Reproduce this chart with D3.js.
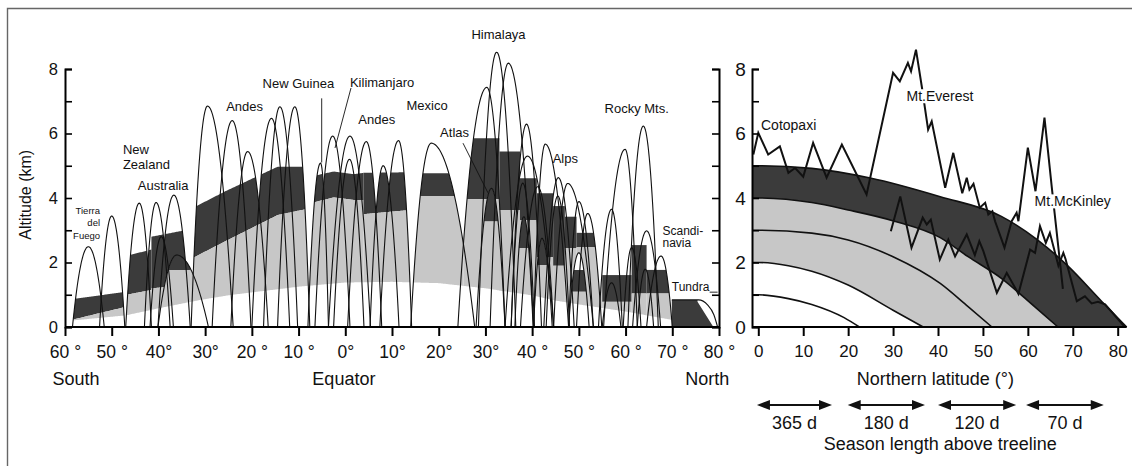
<!DOCTYPE html>
<html>
<head>
<meta charset="utf-8">
<script src="https://cdn.jsdelivr.net/npm/d3@7"></script>
<style>
  body { margin: 0; background: #fff; }
  text { font-family: "Liberation Sans", Arial, Helvetica, sans-serif; fill: #111; }
</style>
</head>
<body>
<svg id="chart" width="1132" height="466"></svg>
<script>
// ---------- Left panel: mountain profiles along a south-north transect ----------
// Each peak: [latitude of summit (° N, negative = south), summit altitude (km), left foot latitude, right foot latitude]
const peaks = [
  [-55.0, 2.49, -58.4, -51.6], [-50.0, 3.44, -52.6, -47.2], [-44.1, 3.84, -47.0, -41.5],
  [-40.5, 3.86, -43.0, -37.5], [-39.4, 2.80, -41.8, -36.8], [-36.7, 4.09, -40.1, -33.2],
  [-36.1, 2.23, -40.1, -29.3],
  [-29.5, 6.85, -33.0, -24.0], [-24.2, 6.40, -28.5, -20.2], [-20.9, 5.44, -24.5, -16.5],
  [-15.8, 6.47, -20.0, -11.9], [-14.0, 6.83, -17.5, -10.2], [-10.8, 6.83, -14.5, -7.6],
  [-5.3, 5.08, -8.0, -3.6], [-2.7, 5.92, -6.5, 1.0], [0.9, 5.20, -2.5, 4.0],
  [1.0, 5.92, -3.6, 5.4], [4.5, 5.75, 0.5, 7.8], [8.1, 5.00, 5.3, 11.5],
  [11.4, 5.78, 7.4, 14.2], [18.4, 5.70, 14.0, 27.7],
  [30.3, 7.43, 24.1, 34.2], [32.4, 8.52, 28.5, 36.5], [34.9, 8.18, 31.0, 40.3],
  [31.3, 4.30, 28.0, 34.2],
  [38.8, 6.29, 35.5, 42.0], [39.0, 5.30, 34.2, 44.6], [38.0, 4.46, 35.5, 40.5],
  [41.2, 4.35, 37.5, 44.6], [42.8, 5.67, 40.3, 47.8], [42.1, 2.75, 40.3, 44.3],
  [45.6, 4.63, 42.5, 49.0], [45.5, 4.06, 43.0, 48.0], [47.6, 4.45, 44.6, 53.1],
  [50.0, 3.89, 47.8, 53.1], [51.9, 3.52, 49.5, 54.9], [50.0, 2.30, 47.8, 52.2],
  [57.0, 3.65, 54.2, 59.3], [57.0, 1.37, 55.0, 59.0], [59.9, 5.51, 55.3, 62.5],
  [63.8, 6.23, 60.5, 67.0], [64.5, 2.98, 61.5, 67.5], [61.3, 2.46, 59.5, 63.3],
  [64.2, 1.79, 62.5, 66.0], [67.6, 2.20, 64.5, 70.0], [38.2, 3.42, 36.3, 40.2]
];

// Lower limit of the montane (light grey) belt: [latitude, altitude km]
const montaneBase = [
  [-58.6, 0.20], [-47, 0.36], [-40, 0.58], [-31, 0.84], [-24.7, 0.99], [-10, 1.25],
  [0, 1.38], [10, 1.40], [20, 1.36], [30, 1.20], [40, 0.98], [45, 0.82], [50, 0.70],
  [60, 0.48], [70, 0.22]
];

// Vegetation belts per mountain range: rows of [latitude, upper limit of alpine belt, treeline]
// "on" lists the peaks (by index) that a belt is restricted to; null = all peaks.
const belts = [
  { on: null, rows: [[-58.6, 0.86, 0.22], [-47.1, 1.09, 0.62]] },
  { on: null, rows: [[-47.1, 2.20, 0.99], [-41.5, 2.40, 1.15]] },
  { on: null, rows: [[-41.5, 2.80, 1.20], [-33.2, 3.03, 1.30]] },
  { on: [6],  rows: [[-40.1, 3.03, 1.77], [-33.2, 3.03, 1.77]] },
  { on: null, rows: [[-33.2, 3.65, 2.10], [-25.8, 4.20, 2.65], [-14.5, 4.97, 3.47], [-7.6, 4.97, 3.68]] },
  { on: null, rows: [[-7.6, 4.66, 3.83], [-2.5, 4.82, 4.02], [1.8, 4.74, 3.94], [3.9, 4.78, 3.94]] },
  { on: null, rows: [[3.9, 4.78, 3.50], [14.2, 4.80, 3.63]] },
  { on: null, rows: [[14.2, 4.77, 4.06], [25.3, 4.77, 4.06]] },
  { on: null, rows: [[25.3, 5.85, 3.96], [33.0, 5.85, 3.96]] },
  { on: [24], rows: [[28.0, 5.85, 3.27], [34.2, 5.85, 3.27]] },
  { on: null, rows: [[33.0, 5.44, 3.63], [37.4, 5.44, 3.63]] },
  { on: null, rows: [[37.4, 4.61, 3.32], [41.0, 4.61, 3.32]] },
  { on: [45], rows: [[36.3, 9.00, 2.45], [40.2, 9.00, 2.45]] },
  { on: null, rows: [[41.0, 4.15, 2.16], [44.5, 4.15, 2.16]] },
  { on: [30], rows: [[40.3, 9.00, 1.92], [44.3, 9.00, 1.92]] },
  { on: null, rows: [[44.5, 3.75, 1.90], [47.0, 3.75, 1.90]] },
  { on: null, rows: [[47.0, 3.42, 2.45], [49.5, 3.42, 2.45]] },
  { on: null, rows: [[49.5, 2.92, 2.48], [55.0, 2.92, 2.48]] },
  { on: [36], rows: [[47.8, 1.77, 1.09], [52.2, 1.77, 1.09]] },
  { on: null, rows: [[55.0, 1.61, 0.78], [61.3, 1.61, 0.78]] },
  { on: null, rows: [[61.3, 2.54, 1.04], [64.5, 2.54, 1.04]] },
  { on: null, rows: [[64.5, 1.77, 1.04], [70.0, 1.77, 1.04]] }
];

// Arctic tundra block and its outline
const tundraFill = [[69.9, 0], [69.9, 0.84], [75.4, 0.84], [75.4, 0.78], [78.8, 0]];
const tundraOutline = [[69.9, 0.84], [75.6, 0.84], [77.6, 0.68], [78.9, 0.38], [79.7, 0]];

const leftTicks = [-60, -50, -40, -30, -20, -10, 0, 10, 20, 30, 40, 50, 60, 70, 80];
const leftTickLabels = ["60 °", "50 °", "40°", "30°", "20 °", "10 °", "0°", "10°", "20°", "30°", "40 °", "50 °", "60 °", "70 °", "80 °"];
const altTicks = [0, 1, 2, 3, 4, 5, 6, 7, 8];
const altLabels = [0, 2, 4, 6, 8];

// ---------- Right panel: northern hemisphere summary ----------
// Isolines of altitude vs latitude: [latitude, altitude km]
const iso5 = [[-1.4, 5], [0, 5], [11.9, 4.92], [24.9, 4.62], [40.5, 4.04], [54.1, 3.43], [62, 2.72], [69, 1.88], [76.4, 0.8], [82, 0]];
const iso4 = [[-1.4, 4], [0, 4], [11.9, 3.86], [20, 3.63], [30.1, 3.29], [40.5, 2.77], [46.7, 2.18], [54.1, 1.51], [61.5, 0.63], [66.7, 0]];
const iso3 = [[-1.4, 3], [0, 3], [11.9, 2.91], [20, 2.7], [30, 2.18], [40.5, 1.35], [46.7, 0.63], [52, 0]];
const iso2 = [[-1.4, 2], [0, 2], [6.7, 1.9], [11.9, 1.73], [20, 1.3], [30, 0.52], [36.7, 0]];
const iso1 = [[-1.4, 1], [0, 1], [6.7, 0.88], [11.9, 0.7], [19.1, 0.29], [22.5, 0]];

// Highest summits along the northern latitudes
const summitLine = [
  [-1.1, 5.35], [0, 6.02], [2.2, 5.35], [4.8, 5.6], [6.7, 4.78], [8.2, 4.93], [10, 4.66],
  [12.2, 5.71], [15.2, 4.63], [18.6, 5.66], [24.1, 4.11], [30, 7.88], [31.5, 7.62],
  [33.3, 8.19], [34, 7.93], [35.1, 8.6], [36.4, 7.45], [37.8, 6.12], [38.6, 6.38],
  [41.6, 4.32], [43.4, 5.4], [45.4, 4.15], [46.4, 4.63], [47, 4.26], [47.9, 4.44],
  [49.3, 3.7], [50.5, 3.85], [51.2, 3.49], [52.1, 3.59], [52.7, 3.28], [54.8, 2.46],
  [56.4, 3.28], [57.5, 3.54], [57.9, 3.28], [60, 5.56], [61.7, 4.21], [63.7, 6.49],
  [65.3, 4.37], [67.8, 1.18]
];
// Local treeline elevations
const treeLine = [
  [29.5, 2.97], [31.6, 4.05], [34.1, 2.46], [36.6, 3.39], [37.5, 3.18], [38.4, 3.33],
  [40.4, 2.09], [42.3, 2.71], [43.8, 2.19], [46.4, 2.87], [48.2, 2.23], [49.2, 2.66],
  [50.1, 2.35], [53.1, 1.06], [55.3, 1.68], [57.9, 1.03], [60.5, 2.4], [61.6, 2.3],
  [62.7, 3.13], [64.0, 2.61], [64.9, 2.92], [66.8, 1.9], [67.9, 2.3], [68.4, 2.1],
  [70.9, 0.8], [72.7, 0.95], [74.2, 0.73], [75.6, 0.78], [77.2, 0.7], [81.6, 0]
];
const rightTicks = [0, 10, 20, 30, 40, 50, 60, 70, 80];
const seasonLabels = ["365 d", "180 d", "120 d", "70 d"];
const seasonSpans = [[-0.3, 16.4], [19.9, 37.1], [40.0, 57.4], [59.6, 76.9]];

// ---------- Drawing ----------
const svg = d3.select("#chart");
const DARK = "#3b3b3b", LIGHT = "#c7c7c7", INK = "#111";

const xL = d3.scaleLinear([-60, 80], [65, 719]);
const y = d3.scaleLinear([0, 8], [327, 69]);
const xR = d3.scaleLinear([0, 80], [758.3, 1117.7]);

// frame
svg.append("path").attr("d", "M7.5,466V8.5H1132").attr("fill", "none")
  .attr("stroke", "#666").attr("stroke-width", 1.4);

const defs = svg.append("defs");

function archPoints(p) {
  const [c, h, l, r] = p, n = 40, pts = [];
  for (let i = 0; i <= n; i++) {
    const lat = l + (c - l) * i / n;
    pts.push([lat, h * (1 - Math.pow((lat - c) / (l - c), 2))]);
  }
  for (let i = 1; i <= n; i++) {
    const lat = c + (r - c) * i / n;
    pts.push([lat, h * (1 - Math.pow((lat - c) / (r - c), 2))]);
  }
  return pts;
}
const lineL = d3.line().x(d => xL(d[0])).y(d => y(d[1]));
const archPaths = peaks.map(p => lineL(archPoints(p)));

const allClip = defs.append("clipPath").attr("id", "clip-all");
archPaths.forEach(d => allClip.append("path").attr("d", d));

const baseAt = d3.scaleLinear(montaneBase.map(d => d[0]), montaneBase.map(d => d[1])).clamp(true);

const beltLayer = svg.append("g");
belts.forEach((b, bi) => {
  let clipId = "clip-all";
  if (b.on) {
    clipId = "clip-belt-" + bi;
    const cp = defs.append("clipPath").attr("id", clipId);
    b.on.forEach(i => cp.append("path").attr("d", archPaths[i]));
  }
  const lats = b.rows.map(r => r[0]);
  const topAt = d3.scaleLinear(lats, b.rows.map(r => r[1]));
  const treeAt = d3.scaleLinear(lats, b.rows.map(r => r[2]));
  const lo = lats[0], hi = lats[lats.length - 1];
  const samples = d3.range(lo, hi, 0.2).concat([hi]);
  const g = beltLayer.append("g").attr("clip-path", `url(#${clipId})`);
  if (b.on) {
    g.append("path").attr("fill", "#fff")
      .attr("d", d3.area().x(d => xL(d)).y0(y(0)).y1(y(9))(samples));
  }
  g.append("path").attr("fill", DARK)
    .attr("d", d3.area().x(d => xL(d)).y0(d => y(treeAt(d))).y1(d => y(topAt(d)))(samples));
  g.append("path").attr("fill", LIGHT)
    .attr("d", d3.area().x(d => xL(d)).y0(d => y(Math.min(baseAt(d), treeAt(d)))).y1(d => y(treeAt(d)))(samples));
});

// tundra
svg.append("path").attr("fill", DARK).attr("d", lineL(tundraFill) + "Z");
svg.append("path").attr("fill", "none").attr("stroke", INK).attr("stroke-width", 1.1)
  .attr("d", d3.line().x(d => xL(d[0])).y(d => y(d[1])).curve(d3.curveMonotoneX)(tundraOutline));

// peak outlines
svg.append("g").selectAll("path").data(archPaths).join("path")
  .attr("d", d => d).attr("fill", "none").attr("stroke", INK).attr("stroke-width", 1.1);

// pointer lines
const pointers = [[[-5.05, 7.09], [-5.05, 5.1]], [[1.22, 7.41], [-2.2, 5.55]], [[25.2, 5.7], [30.55, 4.16]], [[78.0, 1.08], [79.7, 1.08]]];
svg.append("g").selectAll("path").data(pointers).join("path")
  .attr("d", d => lineL(d)).attr("fill", "none").attr("stroke", INK).attr("stroke-width", 0.9);

// left axes
const axL = svg.append("g").attr("transform", `translate(0,${y(0)})`)
  .call(d3.axisBottom(xL).tickValues(leftTicks).tickSize(9).tickPadding(4)
    .tickFormat((d, i) => leftTickLabels[i]));
axL.select(".domain").attr("stroke-width", 2).attr("d", `M${xL(-60)},0H${xL(80)}`);
axL.selectAll(".tick line").attr("stroke-width", 2);
axL.selectAll("text").attr("font-size", 17.5).attr("fill", INK).attr("dy", "1em")
  .attr("font-family", '"Liberation Sans", Arial, sans-serif');

function altAxis(x, orientFn, withLabels, fs, labelX) {
  const g = svg.append("g").attr("transform", `translate(${x},0)`)
    .call(orientFn(y).tickValues(altTicks).tickSize(7).tickFormat(""));
  g.select(".domain").attr("stroke-width", 2);
  g.selectAll(".tick line").attr("stroke-width", 1.6);
  if (withLabels) {
    svg.append("g").selectAll("text").data(altLabels).join("text")
      .attr("x", labelX).attr("y", d => y(d)).attr("dy", "0.36em")
      .attr("text-anchor", "end").attr("font-size", fs).text(d => d);
  }
}
altAxis(xL(-60), d3.axisRight, true, 16.5, 58);
altAxis(xL(80), d3.axisLeft, false);

svg.append("text").attr("transform", `translate(31,${y(4.1)}) rotate(-90)`)
  .attr("text-anchor", "middle").attr("font-size", 16).text("Altitude (km)");

// left labels
const leftText = [
  { t: "Tierra", lat: -52.5, alt: 3.5, fs: 9.5, a: "end" },
  { t: "del", lat: -52.5, alt: 3.12, fs: 9.5, a: "end" },
  { t: "Fuego", lat: -52.5, alt: 2.72, fs: 9.5, a: "end" },
  { t: "New", lat: -47.6, alt: 5.37, fs: 13, a: "start" },
  { t: "Zealand", lat: -47.6, alt: 4.9, fs: 13, a: "start" },
  { t: "Australia", lat: -44.4, alt: 4.25, fs: 13, a: "start" },
  { t: "Andes", lat: -25.5, alt: 6.7, fs: 13, a: "start" },
  { t: "New Guinea", lat: -17.7, alt: 7.42, fs: 13, a: "start" },
  { t: "Kilimanjaro", lat: 1.0, alt: 7.45, fs: 13, a: "start" },
  { t: "Andes", lat: 2.8, alt: 6.3, fs: 13, a: "start" },
  { t: "Mexico", lat: 13.1, alt: 6.72, fs: 13, a: "start" },
  { t: "Atlas", lat: 20.3, alt: 5.88, fs: 13, a: "start" },
  { t: "Himalaya", lat: 27.0, alt: 8.93, fs: 13, a: "start" },
  { t: "Alps", lat: 44.4, alt: 5.1, fs: 13, a: "start" },
  { t: "Rocky Mts.", lat: 55.5, alt: 6.63, fs: 13, a: "start" },
  { t: "Scandi-", lat: 67.9, alt: 2.84, fs: 12, a: "start" },
  { t: "navia", lat: 67.9, alt: 2.47, fs: 12, a: "start" },
  { t: "Tundra", lat: 69.9, alt: 1.12, fs: 12, a: "start" }
];
svg.append("g").selectAll("text").data(leftText).join("text")
  .attr("x", d => xL(d.lat)).attr("y", d => y(d.alt))
  .attr("text-anchor", d => d.a).attr("font-size", d => d.fs).text(d => d.t);

[["South", xL(-62.7), "start"], ["Equator", xL(-0.3), "middle"], ["North", xL(72.8), "start"]]
  .forEach(([t, x, a]) => svg.append("text").attr("x", x).attr("y", 385)
    .attr("text-anchor", a).attr("font-size", 18).text(t));

// ---------- right panel ----------
const lineR = d3.line().x(d => xR(d[0])).y(d => y(d[1]));
const areaR = d3.area().x(d => xR(d[0])).y0(y(0)).y1(d => y(d[1])).curve(d3.curveMonotoneX);
const curveR = d3.line().x(d => xR(d[0])).y(d => y(d[1])).curve(d3.curveMonotoneX);

svg.append("path").attr("fill", DARK).attr("d", areaR(iso5));
svg.append("path").attr("fill", LIGHT).attr("d", areaR(iso4));
svg.append("path").attr("fill", "#fff").attr("d", areaR(iso2));
[iso5, iso4, iso3, iso2, iso1].forEach(c =>
  svg.append("path").attr("fill", "none").attr("stroke", INK).attr("stroke-width", 1.6).attr("d", curveR(c)));

svg.append("path").attr("fill", "none").attr("stroke", INK).attr("stroke-width", 2)
  .attr("stroke-linejoin", "miter").attr("d", lineR(summitLine));
svg.append("path").attr("fill", "none").attr("stroke", INK).attr("stroke-width", 2)
  .attr("stroke-linejoin", "miter").attr("d", lineR(treeLine));

// right axes
const axR = svg.append("g").attr("transform", `translate(0,${y(0)})`)
  .call(d3.axisBottom(xR).tickValues(rightTicks).tickSize(9).tickPadding(4));
axR.select(".domain").attr("stroke-width", 2).attr("d", `M${xR(-1.4)},0H${xR(82)}`);
axR.selectAll(".tick line").attr("stroke-width", 2);
axR.selectAll("text").attr("font-size", 17).attr("fill", INK).attr("dy", "1em")
  .attr("font-family", '"Liberation Sans", Arial, sans-serif');
altAxis(xR(-1.4), d3.axisRight, true, 19, xR(-2.8));

svg.append("text").attr("x", xR(0.6)).attr("y", y(6.1)).attr("font-size", 14).text("Cotopaxi");
function boxedLabel(t, lat, alt) {
  const tx = svg.append("text").attr("x", xR(lat)).attr("y", y(alt)).attr("font-size", 14).text(t);
  const bb = tx.node().getBBox();
  svg.insert("rect", () => tx.node()).attr("x", bb.x - 1).attr("y", bb.y + 1)
    .attr("width", bb.width + 2).attr("height", bb.height - 2).attr("fill", "#fff");
}
boxedLabel("Mt.Everest", 33.0, 7.0);
boxedLabel("Mt.McKinley", 61.5, 3.74);

svg.append("text").attr("x", xR(39.4)).attr("y", 385).attr("text-anchor", "middle")
  .attr("font-size", 18).text("Northern latitude (°)");

// season-length arrows
const arrowY = 405;
seasonSpans.forEach(([a, b], i) => {
  const x0 = xR(a), x1 = xR(b);
  svg.append("line").attr("x1", x0 + 8).attr("x2", x1 - 8).attr("y1", arrowY).attr("y2", arrowY)
    .attr("stroke", INK).attr("stroke-width", 2.2);
  svg.append("path").attr("fill", INK)
    .attr("d", `M${x0},${arrowY}L${x0 + 13},${arrowY - 5}L${x0 + 13},${arrowY + 5}Z`);
  svg.append("path").attr("fill", INK)
    .attr("d", `M${x1},${arrowY}L${x1 - 13},${arrowY - 5}L${x1 - 13},${arrowY + 5}Z`);
  svg.append("text").attr("x", (x0 + x1) / 2).attr("y", 429).attr("text-anchor", "middle")
    .attr("font-size", 18).text(seasonLabels[i]);
});
svg.append("text").attr("x", xR(40.5)).attr("y", 450).attr("text-anchor", "middle")
  .attr("font-size", 18).text("Season length above treeline");
</script>
</body>
</html>
